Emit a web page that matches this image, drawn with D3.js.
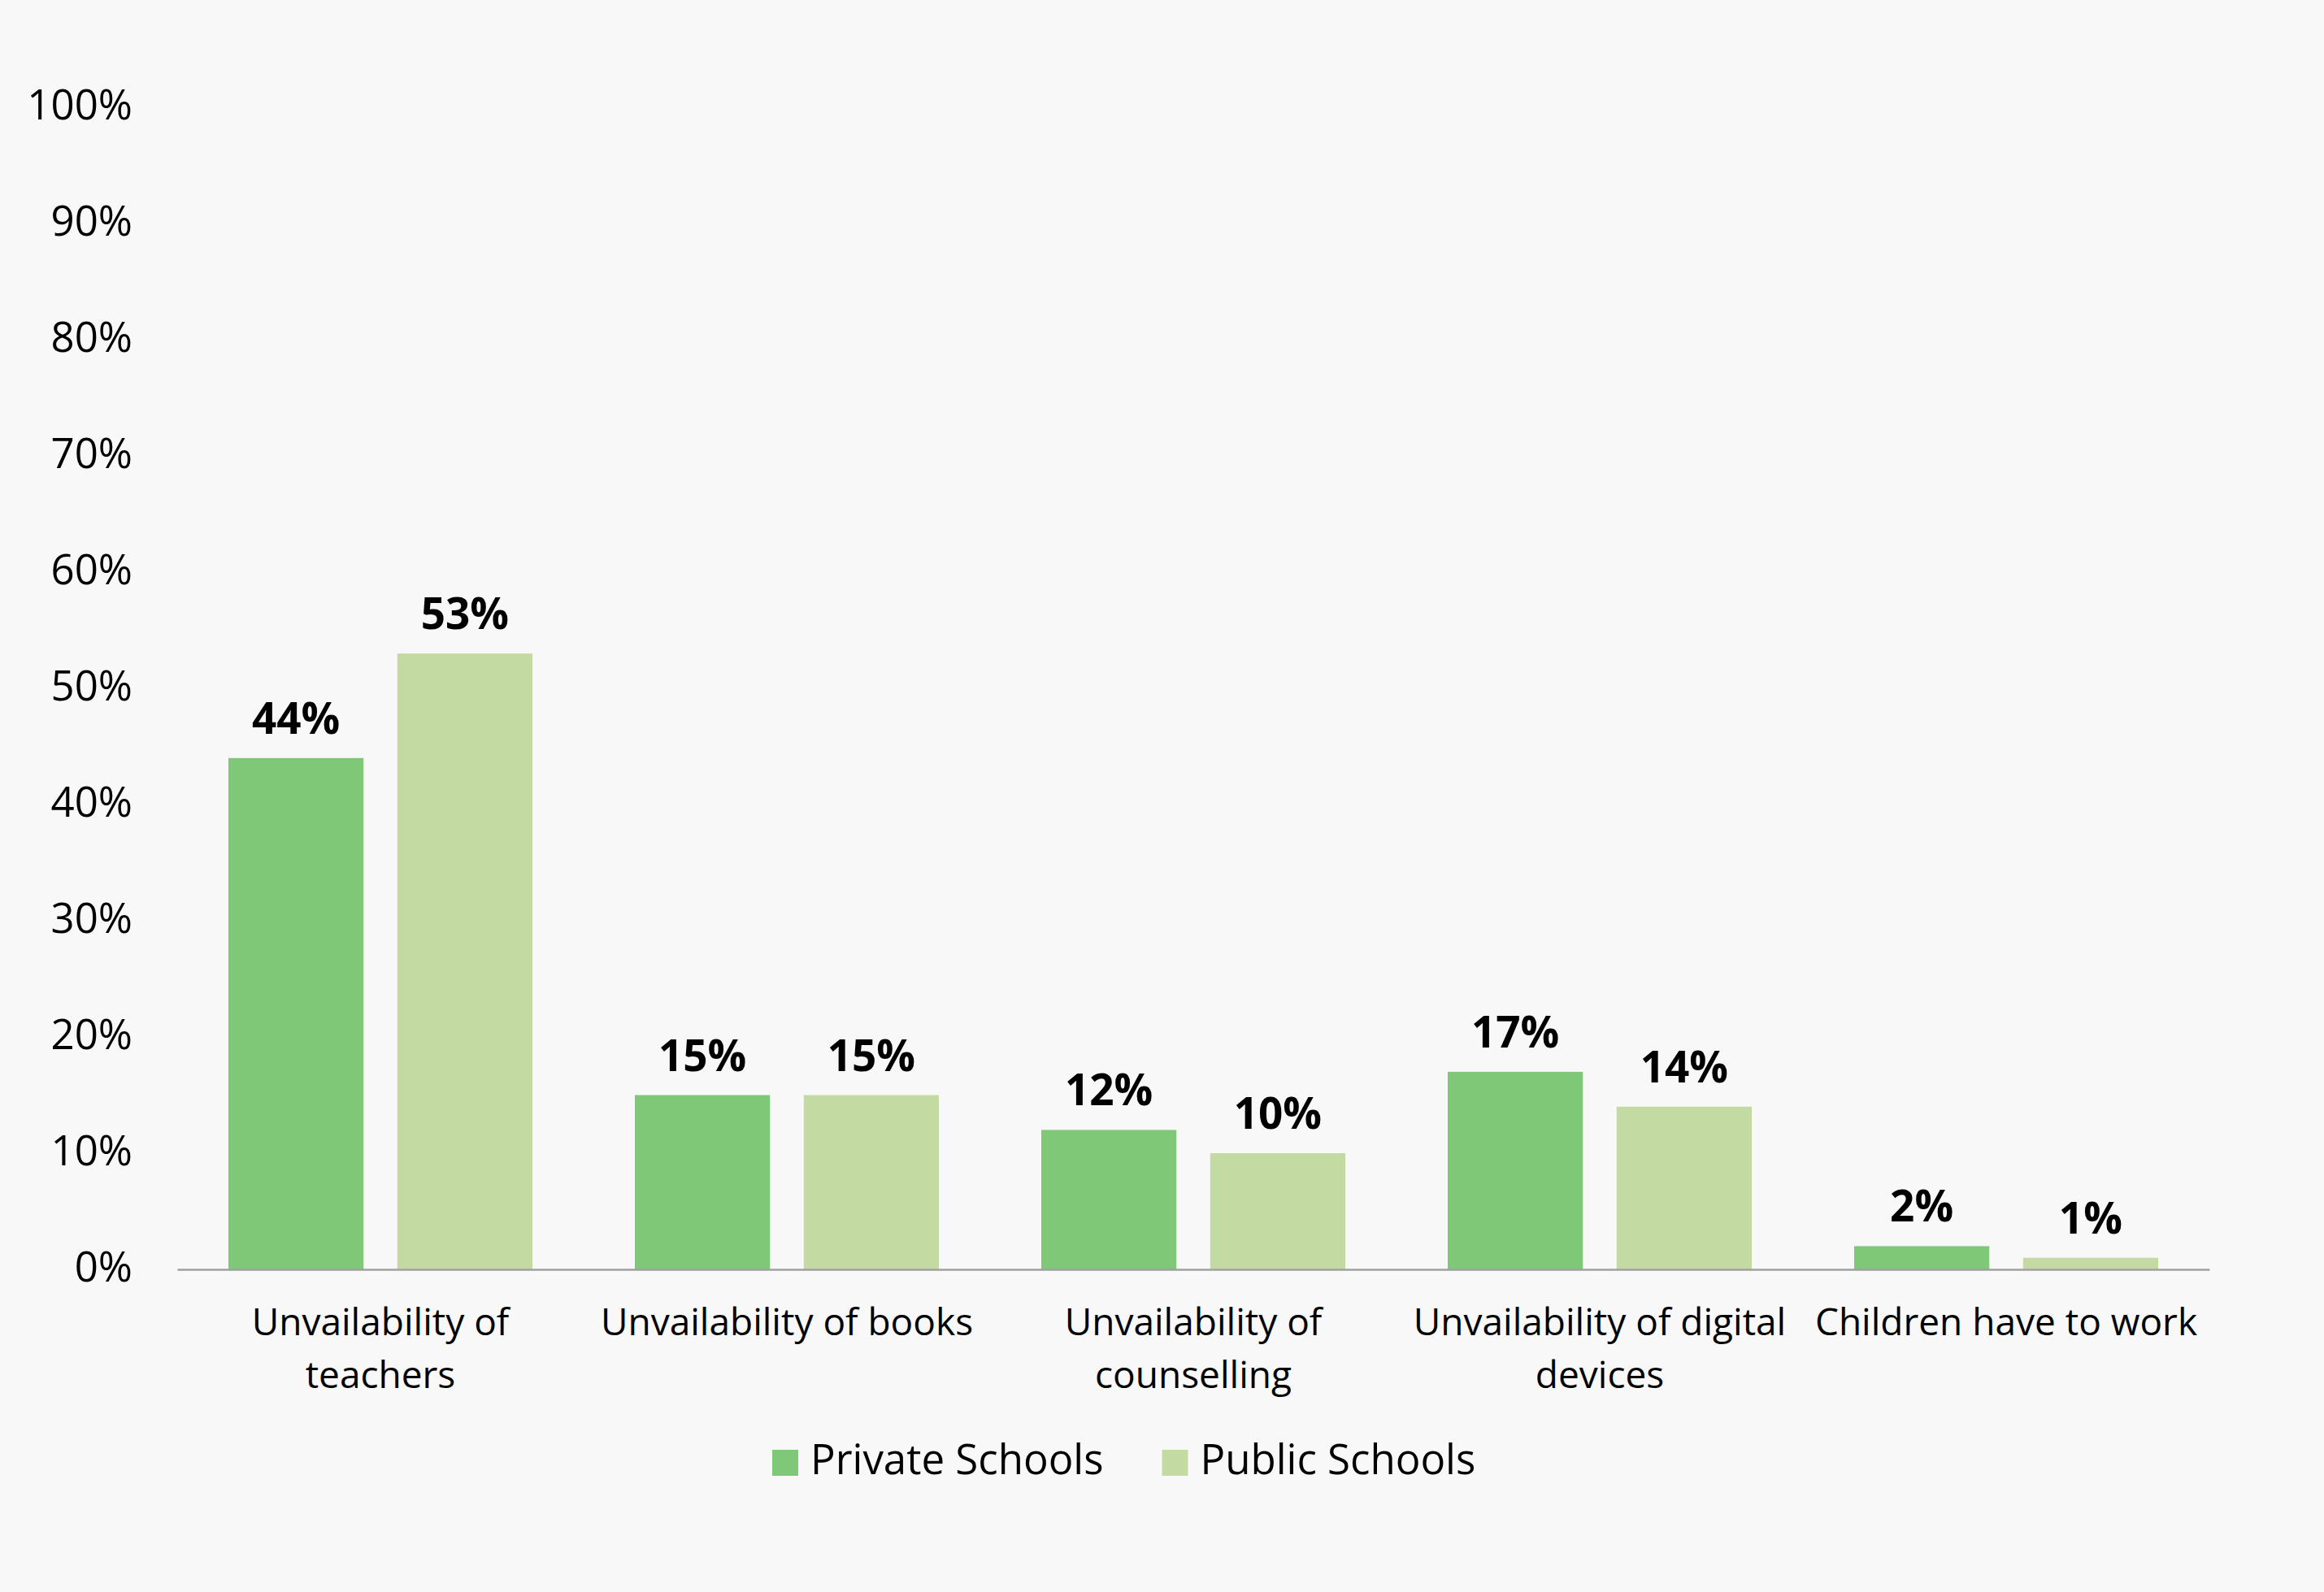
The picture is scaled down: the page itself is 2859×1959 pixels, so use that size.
<!DOCTYPE html>
<html>
<head>
<meta charset="utf-8">
<script src="https://cdn.jsdelivr.net/npm/d3@7"></script>
<style>
  html, body { margin: 0; padding: 0; background: #f8f8f8; }
  svg { display: block; }
  text { font-family: "Open Sans", "Noto Sans", sans-serif; fill: #000; }
</style>
</head>
<body>
<svg id="chart" width="2859" height="1959"></svg>
<script>
// Barriers reported, by school type (share of respondents)
const categories = [
  "Unvailability of\nteachers",
  "Unvailability of books",
  "Unvailability of\ncounselling",
  "Unvailability of digital\ndevices",
  "Children have to work"
];
const seriesNames = ["Private Schools", "Public Schools"];
const privateValues = [0.44, 0.15, 0.12, 0.17, 0.02];
const publicValues  = [0.53, 0.15, 0.10, 0.14, 0.01];
const yTicks = [0, 0.1, 0.2, 0.3, 0.4, 0.5, 0.6, 0.7, 0.8, 0.9, 1.0];
const colors = ["#7fc878", "#c3dba3"];

const seriesValues = [privateValues, publicValues];
const rows = categories.map((c, i) => ({
  category: c,
  values: seriesNames.map((s, j) => ({ series: s, idx: j, value: seriesValues[j][i] }))
}));

const svg = d3.select("#chart");
const W = 2859, H = 1959;
svg.append("rect").attr("width", W).attr("height", H).attr("fill", "#f8f8f8");

const plot = { left: 218, right: 2718, top: 132, bottom: 1562 };

const x0 = d3.scaleBand()
  .domain(categories)
  .range([plot.left, plot.right])
  .paddingInner(0).paddingOuter(0);

const groupPad = 63;
const x1 = d3.scaleBand()
  .domain(seriesNames)
  .range([groupPad, x0.bandwidth() - groupPad])
  .paddingInner(0.2).paddingOuter(0);

const y = d3.scaleLinear().domain([0, 1]).range([plot.bottom, plot.top]);

// Y axis labels (no axis line, no ticks)
const yAxis = d3.axisLeft(y)
  .tickValues(yTicks)
  .tickFormat(d3.format(".0%"))
  .tickSize(0)
  .tickPadding(0);
const yg = svg.append("g")
  .attr("transform", `translate(${plot.left - 55},0)`)
  .call(yAxis);
yg.select(".domain").remove();
yg.selectAll("text")
  .attr("font-family", "'Open Sans', 'Noto Sans', sans-serif")
  .attr("font-size", 51)
  .attr("fill", "#000")
  .attr("dy", "0.28em");

// Bars
const groups = svg.append("g").selectAll("g")
  .data(rows)
  .join("g")
  .attr("transform", d => `translate(${x0(d.category)},0)`);

groups.selectAll("rect")
  .data(d => d.values)
  .join("rect")
  .attr("x", d => x1(d.series))
  .attr("y", d => y(d.value))
  .attr("width", x1.bandwidth())
  .attr("height", d => y(0) - y(d.value))
  .attr("fill", d => colors[d.idx]);

// Value labels
groups.selectAll("text.value")
  .data(d => d.values)
  .join("text")
  .attr("class", "value")
  .attr("x", d => x1(d.series) + x1.bandwidth() / 2)
  .attr("y", d => y(d.value) - 30)
  .attr("text-anchor", "middle")
  .attr("font-size", 53)
  .attr("font-weight", 700)
  .text(d => d3.format(".0%")(d.value));

// X axis baseline
const xAxis = d3.axisBottom(x0).tickSize(0).tickFormat("");
const xg = svg.append("g")
  .attr("transform", `translate(0,${plot.bottom})`)
  .call(xAxis);
xg.select(".domain")
  .attr("stroke", "#a0a0a0")
  .attr("stroke-width", 2.5);

// Category labels, wrapped on explicit breaks
const catLabels = svg.append("g").selectAll("text")
  .data(categories)
  .join("text")
  .attr("text-anchor", "middle")
  .attr("font-size", 46)
  .attr("transform", d => `translate(${x0(d) + x0.bandwidth() / 2},1643)`);
catLabels.each(function(d) {
  const t = d3.select(this);
  d.split("\n").forEach((line, i) => {
    t.append("tspan").attr("x", 0).attr("y", i * 65).text(line);
  });
});

// Legend
const legend = svg.append("g").attr("transform", "translate(950,1784)");
let lx = 0;
seriesNames.forEach((s, i) => {
  const item = legend.append("g").attr("transform", `translate(${lx},0)`);
  item.append("rect").attr("width", 32).attr("height", 32).attr("fill", colors[i]);
  const txt = item.append("text")
    .attr("x", 47).attr("y", 30)
    .attr("font-size", 51)
    .text(s);
  lx += 47 + txt.node().getComputedTextLength() + 72;
});
</script>
</body>
</html>
